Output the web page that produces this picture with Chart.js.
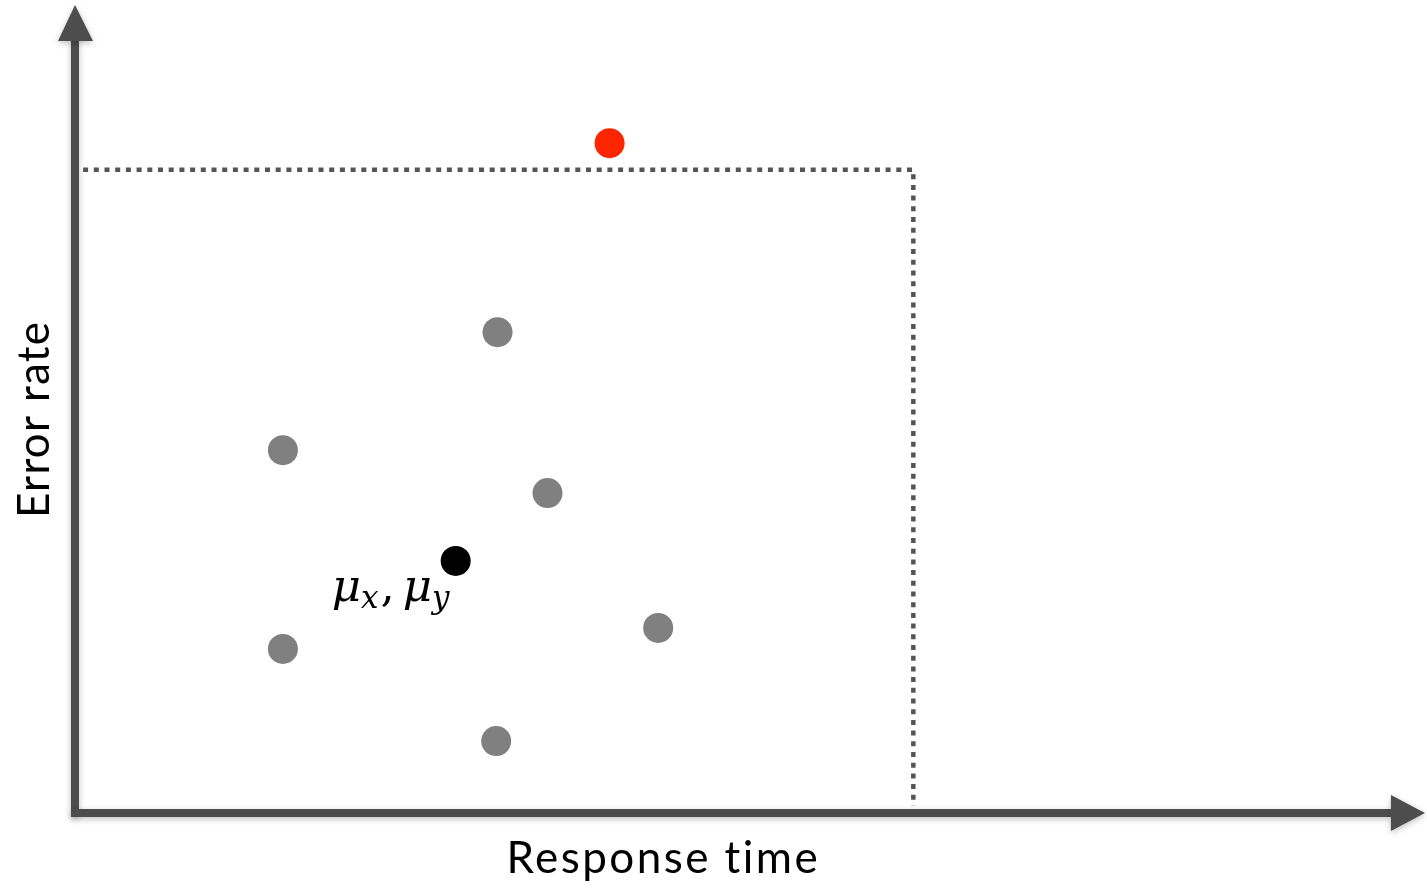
<!DOCTYPE html>
<html>
<head>
<meta charset="utf-8">
<script src="https://cdn.jsdelivr.net/npm/chart.js@4"></script>
<style>
  html, body { margin: 0; padding: 0; background: #fff; }
  #wrap { width: 1427px; height: 891px; }
</style>
</head>
<body>
<div id="wrap"><canvas id="chart"></canvas></div>
<script>
// data (arbitrary units, axis arrows end at 100 on both axes)
const sampleX = [31.3, 15.4, 35.0, 43.2, 15.4, 31.2];
const sampleY = [59.5, 44.9, 39.6, 22.9, 20.3, 8.9];
const meanPoint = { x: 28.2, y: 31.2 };
const outlierPoint = { x: 39.6, y: 82.9 };
const thresholdX = 62.1;
const thresholdY = 79.6;
const axisEnd = 100;
const xTitle = 'Response time';
const yTitle = 'Error rate';

const axisColor = '#4d4d4d';

// draw text stretched with letter spacing to a given width
function fitText(ctx, text, x, y, width) {
  ctx.letterSpacing = '0px';
  const w = ctx.measureText(text).width;
  const sp = (width - w) / (text.length - 1);
  ctx.letterSpacing = sp + 'px';
  ctx.fillText(text, x + sp / 2, y);
  ctx.letterSpacing = '0px';
}

// axes with arrow heads, titles and the mean label
const decorations = {
  id: 'decorations',
  afterDatasetsDraw(chart) {
    const { ctx, scales } = chart;
    const left = scales.x.getPixelForValue(0);
    const right = scales.x.getPixelForValue(axisEnd);
    const bottom = scales.y.getPixelForValue(0);
    const top = scales.y.getPixelForValue(axisEnd);
    ctx.save();
    ctx.shadowColor = 'rgba(0,0,0,0.25)';
    ctx.shadowBlur = 6;
    ctx.shadowOffsetY = 2;
    ctx.fillStyle = axisColor;
    // y axis
    ctx.fillRect(left - 4, top + 30, 8, bottom - top - 26);
    ctx.beginPath();
    ctx.moveTo(left, top);
    ctx.lineTo(left + 18, top + 36);
    ctx.lineTo(left - 17, top + 36);
    ctx.closePath();
    ctx.fill();
    // x axis
    ctx.fillRect(left - 4, bottom - 4, right - left - 30, 8);
    ctx.beginPath();
    ctx.moveTo(right, bottom);
    ctx.lineTo(right - 34, bottom - 18);
    ctx.lineTo(right - 34, bottom + 18);
    ctx.closePath();
    ctx.fill();
    ctx.restore();

    // titles
    ctx.save();
    ctx.fillStyle = '#000';
    ctx.font = '44px Lato';
    ctx.textAlign = 'center';
    ctx.textBaseline = 'alphabetic';
    fitText(ctx, xTitle, 662, 873, 312);
    ctx.translate(49, 420);
    ctx.rotate(-Math.PI / 2);
    fitText(ctx, yTitle, 0, 0, 196);
    ctx.restore();

    // mu label next to the mean
    const px = scales.x.getPixelForValue(meanPoint.x);
    const py = scales.y.getPixelForValue(meanPoint.y);
    ctx.save();
    ctx.fillStyle = '#000';
    ctx.textBaseline = 'alphabetic';
    let x = px - 124, y = py + 40;
    const big = 'italic 45px "DejaVu Serif"';
    const small = 'italic 31px "DejaVu Serif"';
    ctx.font = big; ctx.fillText('\u03bc', x, y); x += ctx.measureText('\u03bc').width;
    ctx.font = small; ctx.fillText('x', x, y + 7); x += ctx.measureText('x').width + 2;
    ctx.font = '45px "DejaVu Serif"'; ctx.fillText(',', x, y); x += ctx.measureText(',').width + 8;
    ctx.font = big; ctx.fillText('\u03bc', x, y); x += ctx.measureText('\u03bc').width;
    ctx.font = small; ctx.fillText('y', x, y + 7);
    ctx.restore();
  }
};

const samples = sampleX.map((v, i) => ({ x: v, y: sampleY[i] }));
const dotted = { borderColor: '#555', borderWidth: 4.5, borderDash: [5, 5.7], borderCapStyle: 'butt', pointRadius: 0, showLine: true, fill: false };

new Chart(document.getElementById('chart'), {
  type: 'scatter',
  data: {
    datasets: [
      Object.assign({ data: [{ x: 0.6, y: thresholdY }, { x: thresholdX, y: thresholdY }, { x: thresholdX, y: 0.9 }] }, dotted),
      { data: samples, backgroundColor: '#808080', borderWidth: 0, pointRadius: 15 },
      { data: [meanPoint], backgroundColor: '#000', borderWidth: 0, pointRadius: 15 },
      { data: [outlierPoint], backgroundColor: '#fe2600', borderWidth: 0, pointRadius: 15 }
    ]
  },
  options: {
    responsive: true,
    maintainAspectRatio: false,
    animation: false,
    layout: { padding: { left: 75, right: 15, top: 15, bottom: 78 } },
    plugins: { legend: { display: false }, tooltip: { enabled: false } },
    scales: {
      // the axis arrows run a little past the plot area, to value 100
      x: { type: 'linear', min: 0, max: 99.04, display: false },
      y: { type: 'linear', min: 0, max: 98.76, display: false }
    }
  },
  plugins: [decorations]
});
</script>
</body>
</html>
